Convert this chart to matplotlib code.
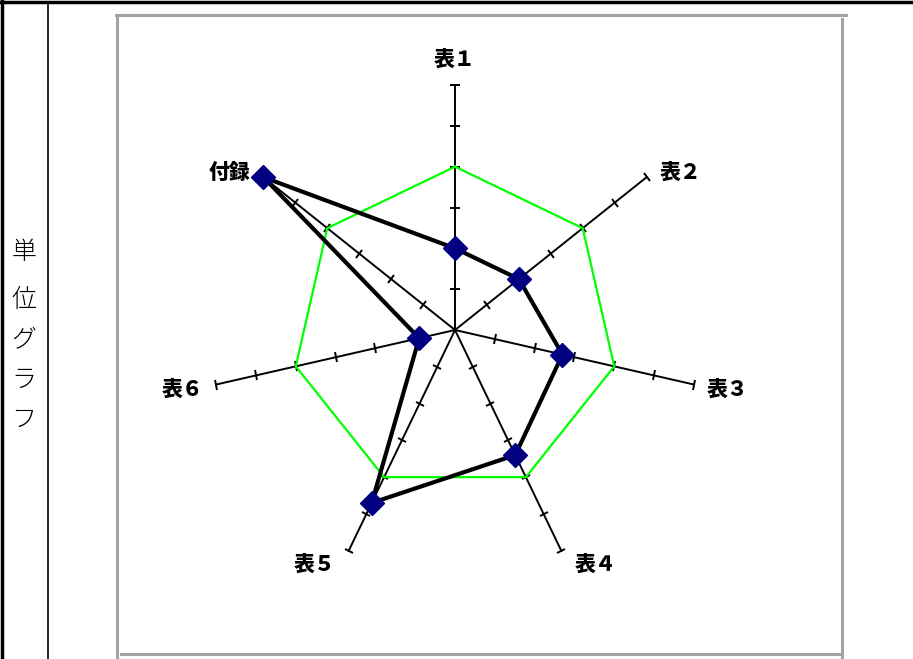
import numpy as np
import matplotlib
matplotlib.use("Agg")
import matplotlib.pyplot as plt
from matplotlib.lines import Line2D
from matplotlib.markers import MarkerStyle
from matplotlib.transforms import Affine2D

plt.rcParams['font.family'] = ['Noto Sans CJK JP', 'DejaVu Sans']

# data
labels = ['表１', '表２', '表３', '表４', '表５', '表６', '付録']
values = [2.0, 2.0, 2.7, 3.4, 4.7, 0.9, 6.0]
standard = [4, 4, 4, 4, 4, 4, 4]
r_max = 6
side_title = '単位グラフ'

W, H = 913, 659
fig = plt.figure(figsize=(W / 100, H / 100), dpi=100)


def fx(x):
    return x / W


def fy(y):
    return 1 - y / H


# page decorations (table borders, chart frame)
fig.add_artist(Line2D([0, 1], [fy(1.5), fy(1.5)], color='black', lw=2.5))
fig.add_artist(Line2D([fx(1.5), fx(1.5)], [0, 1], color='black', lw=2.5))
fig.add_artist(Line2D([fx(48), fx(48)], [0, fy(3)], color='black', lw=1.2))
gray = '#a3a3a3'
fig.add_artist(Line2D([fx(116), fx(846)], [fy(15), fy(15)], color=gray, lw=2.2))
fig.add_artist(Line2D([fx(117), fx(117)], [fy(15), 0], color=gray, lw=2.2))
fig.add_artist(Line2D([fx(842), fx(842)], [fy(19), 0], color=gray, lw=2.2))
fig.add_artist(Line2D([fx(121), fx(842)], [fy(654), fy(654)], color=gray, lw=2.2))

# vertical side title
for i, ch in enumerate(side_title):
    fig.text(fx(24), fy(252 + (48 if i else 0) + max(i - 1, 0) * 40), ch,
             ha='center', va='center', fontsize=18, fontweight='light')

# radar
cx, cy, R = 455, 330, 245
ax = fig.add_axes([(cx - R) / W, 1 - (cy + R) / H, 2 * R / W, 2 * R / H],
                  projection='polar')
ax.set_theta_zero_location('N')
ax.set_theta_direction(-1)
ax.set_ylim(0, r_max)
ax.axis('off')

n = len(labels)
theta = np.linspace(0, 2 * np.pi, n, endpoint=False)
ticks = np.arange(1, r_max + 1)

for t in theta:
    ax.plot([t, t], [0, r_max], color='black', lw=1.4, zorder=2, clip_on=False)
    deg = np.degrees(t)
    tick_marker = MarkerStyle('|', transform=Affine2D().rotate_deg(90 - deg))
    ax.plot([t] * len(ticks), ticks, ls='none', marker=tick_marker,
            markersize=7, markeredgewidth=1.4, color='black', zorder=2,
            clip_on=False)

tc = np.append(theta, theta[0])
ax.plot(tc, standard + standard[:1], color='#00ff00', lw=1.6, zorder=3)
ax.plot(tc, values + values[:1], color='black', lw=3, zorder=4, clip_on=False)
ax.plot(theta, values, ls='none', marker='D', markersize=12,
        color='#000080', markeredgecolor='#000080', zorder=5, clip_on=False)

# category labels, placed beside the end of each spoke
for t, lab in zip(theta, labels):
    s, c = np.sin(t), np.cos(t)
    if abs(s) < 0.1:
        off = (0, 25)
    else:
        off = (34 * np.sign(s), 12 * c - 3)
    ax.annotate(lab, xy=(t, r_max), xytext=(off[0] * 0.72, off[1] * 0.72),
                textcoords='offset points', ha='center', va='center',
                fontsize=15, fontweight='heavy', annotation_clip=False)

fig.savefig('out.png', dpi=100)
